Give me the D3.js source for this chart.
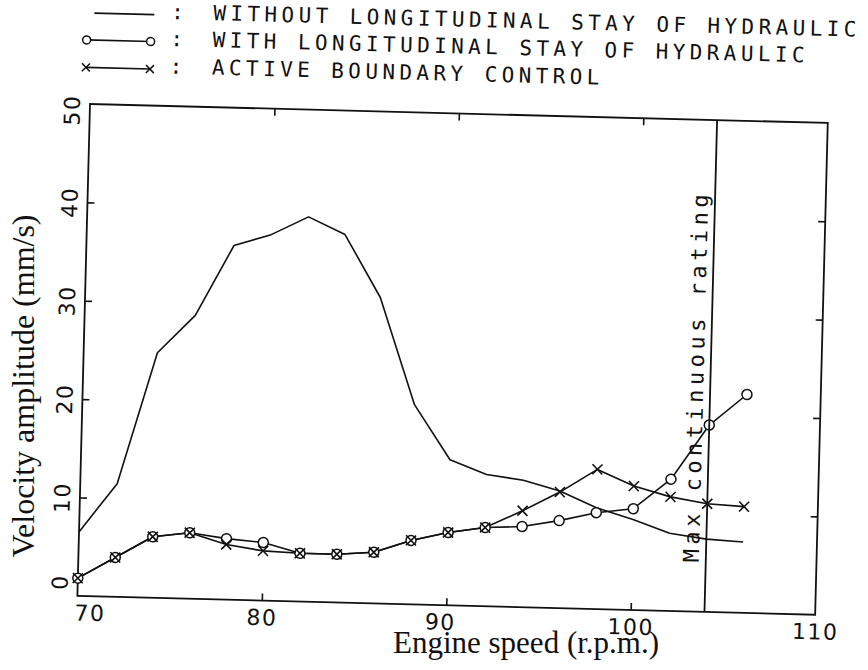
<!DOCTYPE html>
<html>
<head>
<meta charset="utf-8">
<script src="https://cdn.jsdelivr.net/npm/d3@7"></script>
<style>
  html, body { margin: 0; padding: 0; background: #fff; }
  svg { display: block; }
</style>
</head>
<body>
<svg id="chart" width="868" height="670"></svg>
<script>
// ---------------- data ----------------
const speeds = [70, 72, 74, 76, 78, 80, 82, 84, 86, 88, 90, 92, 94, 96, 98, 100, 102, 104, 106];
const withoutStay = [6.5, 11.5, 24.9, 28.8, 36.0, 37.2, 39.1, 37.4, 31.1, 20.3, 14.8, 13.4, 12.9, 11.9, 10.3, 9.2, 7.9, 7.4, 7.2];
const withStay    = [1.8, 4.0, 6.2, 6.7, 6.2, 5.9, 4.9, 4.9, 5.2, 6.5, 7.4, 8.0, 8.2, 8.9, 9.8, 10.3, 13.4, 19.0, 22.2];
const activeCtrl  = [1.8, 4.0, 6.2, 6.7, 5.6, 5.05, 4.9, 4.9, 5.2, 6.5, 7.4, 8.0, 9.8, 11.8, 14.2, 12.6, 11.6, 11.0, 10.8];
const xTickValues = [70, 80, 90, 100, 110];
const yTickValues = [0, 10, 20, 30, 40, 50];
const legendLabels = [
  "WITHOUT LONGITUDINAL STAY OF HYDRAULIC",
  "WITH LONGITUDINAL STAY OF HYDRAULIC",
  "ACTIVE BOUNDARY CONTROL"
];
const maxRatingSpeed = 104;
const maxRatingLabel = "Max continuous rating";
const xTitle = "Engine speed (r.p.m.)";
const yTitle = "Velocity amplitude (mm/s)";

// ---------------- layout ----------------
const svg = d3.select("#chart");
const ox = 90, oy = 104, W = 738, H = 492;
const tilt = 1.47; // scanned plotter output is slightly rotated
const root = svg.append("g").attr("transform", `rotate(${tilt},${ox},${oy})`);
const g = root.append("g").attr("transform", `translate(${ox},${oy})`);

const x = d3.scaleLinear().domain([70, 110]).range([0, W]);
const y = d3.scaleLinear().domain([0, 50]).range([H, 0]);

const ink = "#111";
const tickFont = "'DejaVu Sans', sans-serif";
const monoFont = "'DejaVu Sans Mono', monospace";
const serifFont = "'Liberation Serif', 'Times New Roman', serif";

// frame
g.append("rect").attr("x", 0).attr("y", 0).attr("width", W).attr("height", H)
  .attr("fill", "none").attr("stroke", ink).attr("stroke-width", 1.8);

function styleAxis(sel) {
  sel.select(".domain").remove();
  sel.selectAll(".tick line").attr("stroke", ink).attr("stroke-width", 1.6);
  sel.selectAll(".tick text").attr("fill", ink)
    .style("font-family", tickFont).style("font-size", "22px").style("letter-spacing", "1.5px");
}

// bottom axis
const xb = g.append("g").attr("transform", `translate(0,${H})`)
  .call(d3.axisBottom(x).tickValues(xTickValues).tickSizeInner(-7).tickSizeOuter(0).tickPadding(9).tickFormat(d3.format("d")));
styleAxis(xb);
xb.selectAll(".tick").filter(d => d === 70 || d === 110).select("line").remove();
xb.selectAll(".tick").filter(d => d === 70).select("text").attr("text-anchor", "start").attr("x", -3);
xb.selectAll(".tick").filter(d => d === 90).select("text").attr("x", -6);

// top axis (ticks only)
const xt = g.append("g")
  .call(d3.axisTop(x).tickValues(xTickValues.slice(1, -1)).tickSizeInner(-7).tickSizeOuter(0).tickFormat(""));
styleAxis(xt);

// left axis
const yl = g.append("g")
  .call(d3.axisLeft(y).tickValues(yTickValues).tickSizeInner(-7).tickSizeOuter(0).tickFormat(d3.format("d")));
styleAxis(yl);
yl.selectAll(".tick").filter(d => d === 0 || d === 50).select("line").remove();
yl.selectAll(".tick text")
  .attr("x", null).attr("dy", null)
  .attr("text-anchor", "middle")
  .attr("transform", d => `translate(-10,${d === 50 ? 6 : 0}) rotate(-90)`);
yl.selectAll(".tick").filter(d => d === 0).select("text")
  .attr("text-anchor", "start").attr("transform", "translate(-10,-6) rotate(-90)");

// right axis (ticks only)
const yr = g.append("g").attr("transform", `translate(${W},0)`)
  .call(d3.axisRight(y).tickValues(yTickValues.slice(1, -1)).tickSizeInner(-7).tickSizeOuter(0).tickFormat(""));
styleAxis(yr);

// series
const toPts = vals => speeds.map((s, i) => ({ x: s, y: vals[i] }));
const line = d3.line().x(d => x(d.x)).y(d => y(d.y));
const lineStyle = sel => sel.attr("fill", "none").attr("stroke", ink).attr("stroke-width", 1.6).attr("stroke-linejoin", "round");

g.append("path").datum(toPts(withoutStay)).attr("d", line).call(lineStyle);
g.append("path").datum(toPts(withStay)).attr("d", line).call(lineStyle);
g.append("path").datum(toPts(activeCtrl)).attr("d", line).call(lineStyle);

g.append("g").selectAll("circle").data(toPts(withStay)).join("circle")
  .attr("cx", d => x(d.x)).attr("cy", d => y(d.y)).attr("r", 5)
  .attr("fill", "#fff").attr("stroke", ink).attr("stroke-width", 1.5);

const xMark = (cx, cy, s) => `M${cx - s},${cy - s}L${cx + s},${cy + s}M${cx - s},${cy + s}L${cx + s},${cy - s}`;
g.append("g").selectAll("path").data(toPts(activeCtrl)).join("path")
  .attr("d", d => xMark(x(d.x), y(d.y), 5))
  .attr("fill", "none").attr("stroke", ink).attr("stroke-width", 1.6);

// max continuous rating line + label
g.append("line").attr("x1", x(maxRatingSpeed)).attr("x2", x(maxRatingSpeed))
  .attr("y1", y(0)).attr("y2", y(50)).attr("stroke", ink).attr("stroke-width", 1.8);
g.append("text").attr("transform", `translate(${x(maxRatingSpeed) - 7},${y(5)}) rotate(-90)`)
  .attr("text-anchor", "start").attr("fill", ink)
  .style("font-family", monoFont).style("font-size", "22px").style("letter-spacing", "4.5px")
  .text(maxRatingLabel);

// legend (in page coordinates, inside rotated group)
const legend = root.append("g");
const rows = [17, 44, 71.5];
legendLabels.forEach((lab, i) => {
  const by = rows[i], sy = by - 4;
  legend.append("line").attr("x1", i === 0 ? 92 : 85).attr("x2", i === 0 ? 152 : 149)
    .attr("y1", sy).attr("y2", sy).attr("stroke", ink).attr("stroke-width", 1.6);
  if (i === 1) {
    [85, 149].forEach(cx => legend.append("circle").attr("cx", cx).attr("cy", sy).attr("r", 4)
      .attr("fill", "#fff").attr("stroke", ink).attr("stroke-width", 1.5));
  }
  if (i === 2) {
    [85, 149].forEach(cx => legend.append("path").attr("d", xMark(cx, sy, 4))
      .attr("stroke", ink).attr("stroke-width", 1.5));
  }
  legend.append("text").attr("x", 175).attr("y", by).attr("text-anchor", "middle")
    .style("font-family", monoFont).style("font-size", "21px").attr("fill", ink).text(":");
  legend.append("text").attr("x", 211).attr("y", by)
    .style("font-family", monoFont).style("font-size", "21px").style("letter-spacing", "4.4px")
    .attr("fill", ink).text(lab);
});

// axis titles (typeset, not tilted)
svg.append("text").attr("x", 526).attr("y", 653).attr("text-anchor", "middle")
  .style("font-family", serifFont).style("font-size", "31px").attr("fill", ink).text(xTitle);
svg.append("text").attr("transform", `translate(34,386) rotate(-90)`).attr("text-anchor", "middle")
  .style("font-family", serifFont).style("font-size", "32px").attr("fill", ink).text(yTitle);
</script>
</body>
</html>
